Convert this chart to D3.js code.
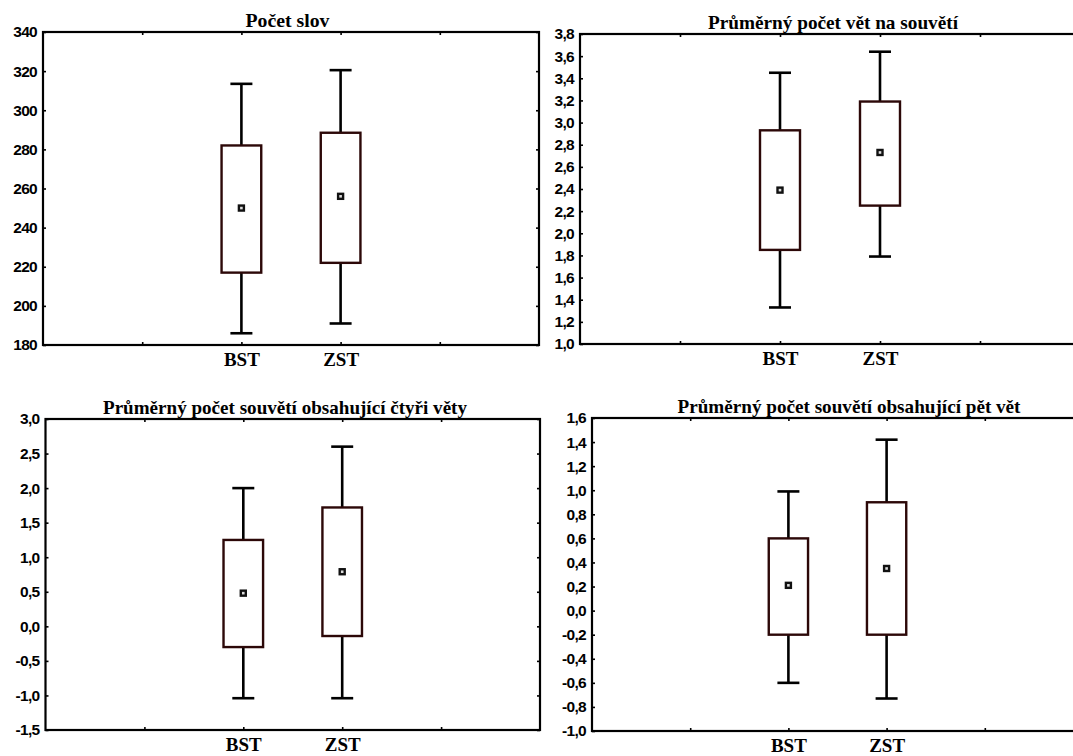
<!DOCTYPE html>
<html>
<head>
<meta charset="utf-8">
<script src="https://cdn.jsdelivr.net/npm/d3@7"></script>
<style>
  body { margin: 0; background: #fff; }
  svg { display: block; }
</style>
</head>
<body>
<svg id="chart" width="1073" height="756"></svg>
<script>
// Groups compared in every panel
const categories = ["BST", "ZST"];

// Panel titles
const titles = [
  "Počet slov",
  "Průměrný počet vět na souvětí",
  "Průměrný počet souvětí obsahující čtyři věty",
  "Průměrný počet souvětí obsahující pět vět"
];

// Y tick values per panel
const ticksWords    = [180, 200, 220, 240, 260, 280, 300, 320, 340];
const ticksClauses  = [1.0, 1.2, 1.4, 1.6, 1.8, 2.0, 2.2, 2.4, 2.6, 2.8, 3.0, 3.2, 3.4, 3.6, 3.8];
const ticksFour     = [-1.5, -1.0, -0.5, 0.0, 0.5, 1.0, 1.5, 2.0, 2.5, 3.0];
const ticksFive     = [-1.0, -0.8, -0.6, -0.4, -0.2, 0.0, 0.2, 0.4, 0.6, 0.8, 1.0, 1.2, 1.4, 1.6];
const yTicks = [ticksWords, ticksClauses, ticksFour, ticksFive];
const yDecimals = [0, 1, 1, 1];

// Statistics per panel: [BST, ZST]
const means       = [[250, 256],     [2.39, 2.73], [0.48, 0.79],   [0.21, 0.35]];
const boxLow      = [[217, 222],     [1.85, 2.25], [-0.30, -0.14], [-0.20, -0.20]];
const boxHigh     = [[282, 288.5],   [2.93, 3.19], [1.25, 1.72],   [0.60, 0.90]];
const whiskerLow  = [[186, 191],     [1.33, 1.79], [-1.04, -1.04], [-0.60, -0.73]];
const whiskerHigh = [[313.5, 320.5], [3.45, 3.64], [2.00, 2.60],   [0.99, 1.42]];

// Plot frames (pixel layout)
const frames = [
  { left: 43,  right: 539,  top: 32,  bottom: 345, titleX: 287.5, titleLen: 84 },
  { left: 580, right: 1080, top: 34,  bottom: 344, titleX: 833,   titleLen: 250 },
  { left: 45.5, right: 540, top: 419, bottom: 730, titleX: 285,   titleLen: 364 },
  { left: 592, right: 1083, top: 418, bottom: 731, titleX: 849,   titleLen: 343 }
];

const locale = d3.formatLocale({ decimal: ",", thousands: " ", grouping: [3], currency: ["", ""], minus: "-" });
const svg = d3.select("#chart");

const sansBold = "'Liberation Sans', Arial, sans-serif";
const serifBold = "'Liberation Serif', 'Times New Roman', serif";
const boxColor = "#2c0808";

frames.forEach((f, p) => {
  const ticks = yTicks[p];
  const y = d3.scaleLinear().domain([ticks[0], ticks[ticks.length - 1]]).range([f.bottom, f.top]);
  const x = d3.scaleLinear().domain([0, 5]).range([f.left, f.right]);
  const fmt = locale.format("." + yDecimals[p] + "f");
  const g = svg.append("g");

  // y axis (left) with labels, ticks pointing inward
  const left = g.append("g")
    .attr("transform", `translate(${f.left},0)`)
    .call(d3.axisLeft(y).tickValues(ticks).tickFormat(fmt).tickSizeInner(-3).tickSizeOuter(0).tickPadding(6));
  left.select(".domain").remove();
  left.selectAll(".tick line").attr("stroke", "#000").attr("stroke-width", 1.6);
  left.selectAll(".tick text")
    .attr("fill", "#000")
    .style("font-family", sansBold)
    .style("font-weight", "bold")
    .style("font-size", "15.5px")
    .style("letter-spacing", "-0.7px");

  // right side ticks
  const right = g.append("g")
    .attr("transform", `translate(${f.right},0)`)
    .call(d3.axisRight(y).tickValues(ticks).tickFormat("").tickSizeInner(-3).tickSizeOuter(0));
  right.select(".domain").remove();
  right.selectAll(".tick line").attr("stroke", "#000").attr("stroke-width", 1.6);

  // x axis (bottom) with group names
  const bottom = g.append("g")
    .attr("transform", `translate(0,${f.bottom})`)
    .call(d3.axisBottom(x).tickValues([1, 2, 3, 4])
      .tickFormat(v => categories[v - 2] || "")
      .tickSizeInner(-3).tickSizeOuter(0).tickPadding(8));
  bottom.select(".domain").remove();
  bottom.selectAll(".tick line").attr("stroke", "#000").attr("stroke-width", 1.6);
  bottom.selectAll(".tick text")
    .attr("fill", "#000")
    .style("font-family", serifBold)
    .style("font-weight", "bold")
    .style("font-size", "19px");

  // top ticks
  const top = g.append("g")
    .attr("transform", `translate(0,${f.top})`)
    .call(d3.axisTop(x).tickValues([1, 2, 3, 4]).tickFormat("").tickSizeInner(-3).tickSizeOuter(0));
  top.select(".domain").remove();
  top.selectAll(".tick line").attr("stroke", "#000").attr("stroke-width", 1.6);

  // frame
  g.append("rect")
    .attr("x", f.left).attr("y", f.top)
    .attr("width", f.right - f.left).attr("height", f.bottom - f.top)
    .attr("fill", "none").attr("stroke", "#000").attr("stroke-width", 2.2);

  // title
  g.append("text")
    .attr("x", f.titleX).attr("y", f.top - 5)
    .attr("text-anchor", "middle")
    .attr("textLength", f.titleLen)
    .attr("lengthAdjust", "spacingAndGlyphs")
    .style("font-family", serifBold)
    .style("font-weight", "bold")
    .style("font-size", "19px")
    .text(titles[p]);

  // box plots
  const boxW = (x(1) - x(0)) * 0.4;
  const capW = 22;
  categories.forEach((c, i) => {
    const cx = x(i + 2);
    const bg = g.append("g");
    // whiskers
    bg.append("line").attr("x1", cx).attr("x2", cx)
      .attr("y1", y(boxHigh[p][i])).attr("y2", y(whiskerHigh[p][i]));
    bg.append("line").attr("x1", cx).attr("x2", cx)
      .attr("y1", y(boxLow[p][i])).attr("y2", y(whiskerLow[p][i]));
    bg.append("line").attr("x1", cx - capW / 2).attr("x2", cx + capW / 2)
      .attr("y1", y(whiskerHigh[p][i])).attr("y2", y(whiskerHigh[p][i]));
    bg.append("line").attr("x1", cx - capW / 2).attr("x2", cx + capW / 2)
      .attr("y1", y(whiskerLow[p][i])).attr("y2", y(whiskerLow[p][i]));
    bg.selectAll("line").attr("stroke", "#000").attr("stroke-width", 2.6);
    // box
    bg.append("rect")
      .attr("x", cx - boxW / 2).attr("y", y(boxHigh[p][i]))
      .attr("width", boxW).attr("height", y(boxLow[p][i]) - y(boxHigh[p][i]))
      .attr("fill", "#fff").attr("stroke", boxColor).attr("stroke-width", 2.4);
    // mean marker
    bg.append("rect")
      .attr("x", cx - 2.5).attr("y", y(means[p][i]) - 2.5)
      .attr("width", 5).attr("height", 5)
      .attr("fill", "#ddd").attr("stroke", "#111").attr("stroke-width", 2.4);
  });
});
</script>
</body>
</html>
